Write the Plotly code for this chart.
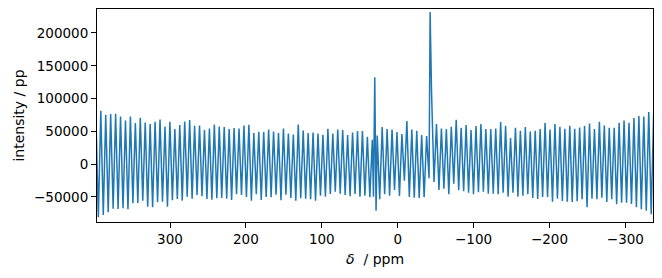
import numpy as np
import plotly.graph_objects as go

# chemical-shift axis of the spectrum (ppm), evenly sampled
ppm_start = 397.7
ppm_end = -337.3

# intensity at each sample of the ppm axis
intensity = [
    75000,
    # 390 .. 215 ppm
    -81000, 81500, -77500, 75200, -73400, 76400, -67900, 77000, -68300, 72800,
    -67300, 66700, -68800, 72800, -59600, 62700, -59200, 70800, -55600, 63600,
    -64800, 61100, -65700, 64700, -58100, 68200, -57200, 57500, -64800, 64700,
    -55000, 53500, -53000, 59600, -55600, 65100, -49500, 67300, -52600, 58600,
    -46900, 59000, -48900, 52000, -53000, 54400, -54100, 60600, -52000, 57500,
    -51500, 56600, -52600, 53500, -54600, 55000,
    # 215 .. 34 ppm
    -45900, 54400, -46900, 59000, -50000, 60100, -55600, 47400, -45900, 49400,
    -54600, 48900, -50000, 52900, -50500, 49800, -46500, 47400, -55000, 54400,
    -46500, 46800, -51500, 45300, -55600, 60600, -52000, 51400, -52600, 47400,
    -53500, 48300, -55600, 46800, -48000, 44800, -49500, 54000, -45400, 46800,
    -41900, 52900, -44900, 52000, -46900, 44300, -48900, 48300, -45400, 50500,
    -49500, 50500, -48000, 41700, -50500, 37200,
    # 30 ppm peak
    132400, 43800,
    # 24 .. -38 ppm
    -53500, 56600, -45900, 53500, -48000, 52900, -39300, 48900, -48500, 45900,
    -25100, 65700, -50000, 52900, -51100, 50900, -51500, 44300, -50500, 42800,
    # -43 ppm peak
    -21400, 110000, -27100, 61100,
    # -54 .. -155 ppm
    -39300, 54400, -37300, 53500, -45900, 57000, -29700, 67700, -39800, 55500,
    -41300, 59600, -43400, 52000, -45900, 58100, -42800, 61100, -41900, 53500,
    -44900, 53500, -44900, 54400, -45900, 64200, -43400, 58600, -49500, 39800,
    -43400, 55500,
    # -158 .. -337 ppm
    -49500, 50900, -48000, 56600, -45900, 49800, -51500, 50900, -53000, 53500,
    -50000, 62700, -50000, 52900, -57200, 61100, -52600, 57000, -56100, 54000,
    -57200, 58600, -57600, 54000, -56600, 56000, -53500, 58100, -65700, 62100,
    -52600, 53500, -53500, 64700, -51100, 59000, -57600, 55500, -53500, 55500,
    -61200, 63200, -58700, 66700, -58700, 63200, -60700, 70300, -65700, 73400,
    -68800, 72800, -70900, 79500, -76500, 80000,
]

# extra samples of the two narrow signals
peak_ppm = [31.9, 28.5, -42.7]
peak_intensity = [-49500, -71000, 231800]

ppm = np.linspace(ppm_start, ppm_end, len(intensity))
x = np.concatenate([ppm, peak_ppm])
y = np.concatenate([np.array(intensity, float), peak_intensity])
order = np.argsort(-x)
x, y = x[order], y[order]

x_ticks = [300, 200, 100, 0, -100, -200, -300]
y_ticks = [-50000, 0, 50000, 100000, 150000, 200000]

fig = go.Figure()
fig.add_trace(go.Scatter(x=x, y=y, mode="lines",
                         line=dict(color="#1f77b4", width=1.5),
                         hoverinfo="skip", showlegend=False))

font = dict(family="DejaVu Sans", color="black", size=13.5)
fig.update_layout(
    width=662, height=278,
    margin=dict(l=97, r=9, t=9, b=56),
    paper_bgcolor="white", plot_bgcolor="white",
    font=font,
    showlegend=False,
)
fig.update_xaxes(
    range=[396.2, -336.4], tickvals=x_ticks, ticks="outside", ticklen=5,
    tickwidth=1, tickcolor="black", showline=True, linecolor="black",
    linewidth=1, mirror=True, showgrid=False, zeroline=False,
    tickfont=font,
)
fig.update_yaxes(
    range=[-88170, 236550], tickvals=y_ticks, tickformat="d", ticks="outside",
    ticklen=5, tickwidth=1, tickcolor="black", showline=True,
    linecolor="black", linewidth=1, mirror=True, showgrid=False,
    zeroline=False, tickfont=font,
)
fig.add_annotation(text="<i>δ</i>  / ppm", xref="paper", yref="paper",
                   x=0.5, y=-0.172, yanchor="middle", xanchor="center",
                   showarrow=False, font=dict(family="DejaVu Sans", size=14))
fig.add_annotation(text="intensity / pp", xref="paper", yref="paper",
                   x=-0.142, y=0.5, xanchor="center", yanchor="middle",
                   textangle=-90, showarrow=False,
                   font=dict(family="DejaVu Sans", size=14))

fig.write_html("out.html")
